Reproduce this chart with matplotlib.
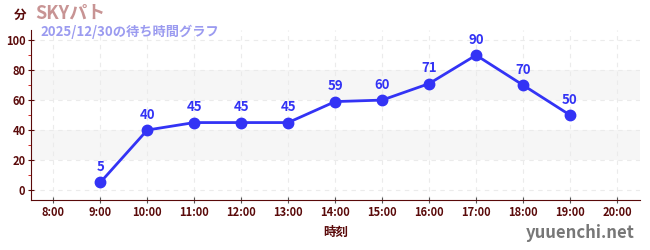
import matplotlib
matplotlib.use("Agg")
import matplotlib.pyplot as plt
from matplotlib.ticker import MultipleLocator

plt.rcParams['font.family'] = ['Noto Sans CJK JP', 'DejaVu Sans']

hours = [9, 10, 11, 12, 13, 14, 15, 16, 17, 18, 19]
waits = [5, 40, 45, 45, 45, 59, 60, 71, 90, 70, 50]
tick_hours = list(range(8, 21))
tick_labels = [f"{h}:00" for h in tick_hours]
y_ticks = [0, 20, 40, 60, 80, 100]
bands = [(20, 40), (60, 80)]

dark = '#5a0a0a'
blue = '#3333f5'

fig = plt.figure(figsize=(6.5, 2.5), dpi=100)
ax = fig.add_axes([31/650, 50/250, 609/650, 170/250])

ax.set_xlim(7.525, 20.49)
ax.set_ylim(-6.7, 106.8)

for lo, hi in bands:
    ax.axhspan(lo, hi, color='#f6f6f6', zorder=0, lw=0)

ax.set_xticks(tick_hours)
ax.set_xticklabels(tick_labels)
ax.set_yticks(y_ticks)
ax.yaxis.set_minor_locator(MultipleLocator(10))
ax.grid(True, which='major', color='#ebebeb', linestyle=(0, (4, 4)), lw=0.8, zorder=0)

ax.plot(hours, waits, color=blue, lw=2, marker='o', ms=7.5, zorder=3)
for h, w in zip(hours, waits):
    ax.annotate(str(w), (h, w), xytext=(0, 6), textcoords='offset points',
                ha='center', va='bottom', color=blue, fontsize=9.5, fontweight='bold')

for s in ['top', 'right']:
    ax.spines[s].set_visible(False)
ax.spines['left'].set_color(dark)
ax.spines['bottom'].set_color(dark)
ax.tick_params(axis='both', which='major', colors=dark, labelsize=8, length=5,
               direction='inout', pad=1.5)
ax.tick_params(axis='x', which='major', color='#555555')
ax.tick_params(axis='y', which='minor', color='#cc0000', length=2.5)
for lbl in ax.get_xticklabels() + ax.get_yticklabels():
    lbl.set_fontweight('bold')

ax.set_xlabel('時刻', color=dark, fontsize=9, fontweight='bold', labelpad=5)

fig.text(14/650, 1 - 15/250, '分', color=dark, fontsize=9, fontweight='bold', va='center')
fig.text(35/650, 1 - 13/250, 'SKYパト', color='#c89494', fontsize=13, fontweight='bold', va='center')
fig.text(40/650, 1 - 32/250, '2025/12/30の待ち時間グラフ', color='#9b9bf0', fontsize=9.5, fontweight='bold', va='center')
fig.text(635/650, 1 - 233/250, 'yuuenchi.net', color='#777777', fontsize=12, fontweight='bold', ha='right', va='center')

fig.savefig('out.png', dpi=100)
